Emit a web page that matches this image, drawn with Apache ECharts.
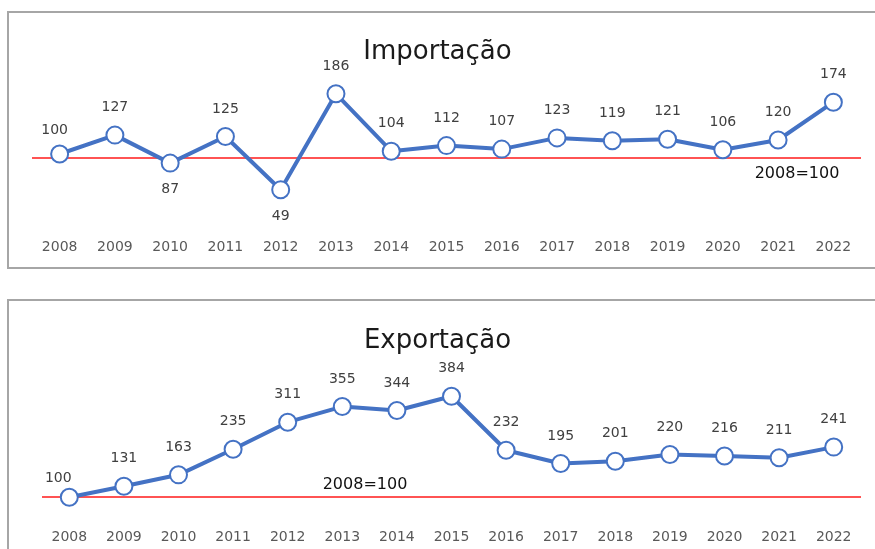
<!DOCTYPE html>
<html>
<head>
<meta charset="utf-8">
<script src="https://cdn.jsdelivr.net/npm/echarts@6/dist/echarts.min.js"></script>
<style>
  html, body { margin: 0; padding: 0; background: #fff; }
  #main { width: 875px; height: 549px; }
</style>
</head>
<body>
<div id="main"></div>
<script>
// dados (2008=100)
var years = ['2008','2009','2010','2011','2012','2013','2014','2015','2016','2017','2018','2019','2020','2021','2022'];
var importacao = [100, 127, 87, 125, 49, 186, 104, 112, 107, 123, 119, 121, 106, 120, 174];
var exportacao = [100, 131, 163, 235, 311, 355, 344, 384, 232, 195, 201, 220, 216, 211, 241];
// linha de referência (como aparece no gráfico)
var importRef = 95;
var exportRef = 100;

var myChart = echarts.init(document.getElementById('main'));

var FONT = 'DejaVu Sans';
var blue = '#4472C4';
var red = '#FF1A1A';

// rótulos abaixo do ponto na importação
var importBelow = ['2010', '2012'];

function buildData(values, below, firstOffset) {
    return values.map(function (v, i) {
        var item = { value: v };
        if (below.indexOf(years[i]) >= 0) {
            item.label = { position: 'bottom', distance: 10 };
        } else if (i === 0) {
            item.label = { offset: firstOffset };
        }
        return item;
    });
}

function xAxisFor(idx, margin) {
    return {
        type: 'category',
        gridIndex: idx,
        data: years,
        boundaryGap: true,
        axisLine: { show: false },
        axisTick: { show: false },
        axisLabel: { margin: margin, color: '#595959', fontFamily: FONT, fontSize: 14 }
    };
}

function lineSeries(idx, values, below, ref, firstOffset) {
    return {
        type: 'line',
        xAxisIndex: idx,
        yAxisIndex: idx,
        data: buildData(values, below, firstOffset),
        symbol: 'circle',
        symbolSize: 17,
        itemStyle: { color: '#fff', borderColor: blue, borderWidth: 2 },
        lineStyle: { color: blue, width: 4 },
        label: {
            show: true,
            position: 'top',
            distance: 11,
            color: '#404040',
            fontFamily: FONT,
            fontSize: 14
        },
        markLine: {
            silent: true,
            symbol: 'none',
            label: { show: false },
            itemStyle: { color: red },
            lineStyle: { color: red, width: 1.5, type: 'solid', opacity: 1 },
            data: [{ yAxis: ref, lineStyle: { color: red } }],
            z: 1
        },
        z: 3
    };
}

var option = {
    animation: false,
    title: [
        {
            text: 'Importação', left: 'center', top: 34,
            textStyle: { fontFamily: FONT, fontSize: 26, fontWeight: 'normal', color: '#1a1a1a' }
        },
        {
            text: 'Exportação', left: 'center', top: 323,
            textStyle: { fontFamily: FONT, fontSize: 26, fontWeight: 'normal', color: '#1a1a1a' }
        }
    ],
    grid: [
        { left: 32, right: 14, top: 56, height: 168 },
        { left: 42, right: 14, top: 355, height: 160 }
    ],
    xAxis: [ xAxisFor(0, 16), xAxisFor(1, 15) ],
    yAxis: [
        { type: 'value', gridIndex: 0, min: 0, max: 240, show: false },
        { type: 'value', gridIndex: 1, min: 50, max: 500, show: false }
    ],
    graphic: [
        {
            type: 'rect', silent: true,
            shape: { x: 8, y: 12, width: 890, height: 256 },
            style: { fill: 'none', stroke: '#a6a6a6', lineWidth: 2 }
        },
        {
            type: 'rect', silent: true,
            shape: { x: 8, y: 300, width: 890, height: 270 },
            style: { fill: 'none', stroke: '#a6a6a6', lineWidth: 2 }
        },
        {
            type: 'text', x: 797, y: 174,
            style: { text: '2008=100', fontFamily: FONT, fontSize: 16, fill: '#111', textAlign: 'center', textVerticalAlign: 'middle' }
        },
        {
            type: 'text', x: 365, y: 485,
            style: { text: '2008=100', fontFamily: FONT, fontSize: 16, fill: '#111', textAlign: 'center', textVerticalAlign: 'middle' }
        }
    ],
    series: [
        lineSeries(0, importacao, importBelow, importRef, [-5, 4]),
        lineSeries(1, exportacao, [], exportRef, [-11, 9])
    ]
};

myChart.setOption(option);
</script>
</body>
</html>
